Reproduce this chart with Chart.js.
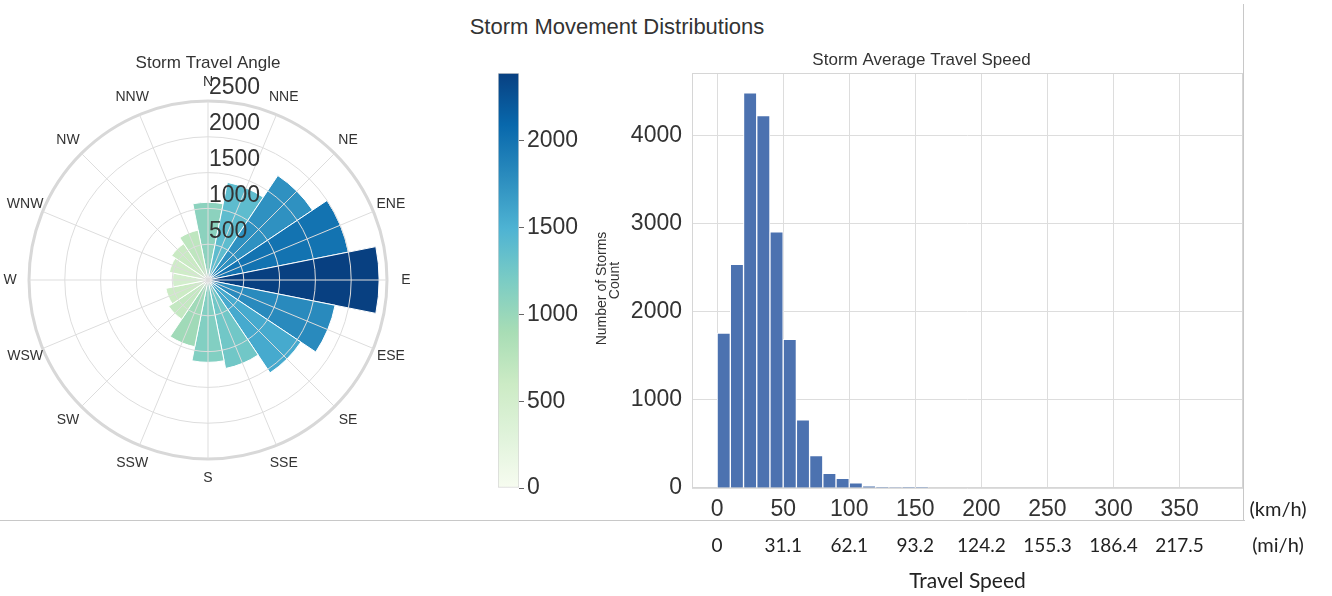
<!DOCTYPE html>
<html>
<head>
<meta charset="utf-8">
<title>Storm Movement Distributions</title>
<script src="https://cdn.jsdelivr.net/npm/chart.js@4.4.1/dist/chart.umd.min.js"></script>
<style>
  html, body { margin: 0; padding: 0; background: #fff; }
  body { width: 1332px; height: 596px; position: relative; overflow: hidden;
         font-family: 'Liberation Sans', Arial, sans-serif; }
  .panel { position: absolute; }
  #suptitle { position: absolute; left: 0; top: 14px; width: 1234px; text-align: center;
              font-size: 22px; line-height: 26px; color: #333; }
  #hline { position: absolute; left: 0; top: 520px; width: 1245px; border-top: 1px solid #c8c8c8; }
  #vline { position: absolute; left: 1243px; top: 4px; height: 516px; border-left: 1px solid #c8c8c8; }
</style>
</head>
<body>
<div id="suptitle">Storm Movement Distributions</div>
<div class="panel" style="left:0;top:40px;width:416px;height:480px"><canvas id="roseChart" width="416" height="480"></canvas></div>
<div class="panel" style="left:470px;top:40px;width:150px;height:480px"><canvas id="colorbar" width="150" height="480"></canvas></div>
<div class="panel" style="left:590px;top:40px;width:742px;height:556px"><canvas id="speedChart" width="742" height="556"></canvas></div>
<div id="hline"></div>
<div id="vline"></div>
<script>
// storm travel direction, clockwise from north
const directions = ['N', 'NNE', 'NE', 'ENE', 'E', 'ESE', 'SE', 'SSE', 'S', 'SSW', 'SW', 'WSW', 'W', 'WNW', 'NW', 'NNW'];
const directionCounts = [1085, 1390, 1755, 2000, 2390, 1810, 1560, 1260, 1150, 950, 660, 600, 495, 550, 610, 710];
const radialTicks = [500, 1000, 1500, 2000, 2500];
const colorbarTicks = [0, 500, 1000, 1500, 2000];

// average travel speed histogram, 10 km/h bins
const speedBinStarts = [0, 10, 20, 30, 40, 50, 60, 70, 80, 90, 100, 110, 120, 130, 140, 150];
const speedCounts = [1760, 2540, 4490, 4230, 2910, 1690, 775, 368, 167, 110, 60, 23, 10, 5, 3, 2];
const binWidth = 10;
const kmTicks = [0, 50, 100, 150, 200, 250, 300, 350];
const mphLabels = ['0', '31.1', '62.1', '93.2', '124.2', '155.3', '186.4', '217.5'];
const countTicks = [0, 1000, 2000, 3000, 4000];

const countMax = Math.max(...directionCounts);
const SANS = "'Liberation Sans', Arial, sans-serif";
const LATO = "Lato, 'Open Sans', sans-serif";
const TEXT = '#333';
const GRID = '#dddddd';

// GnBu colour ramp
const gnbu = ['#f7fcf0', '#e0f3db', '#ccebc5', '#a8ddb5', '#7bccc4', '#4eb3d3', '#2b8cbe', '#0868ac', '#084081'];

function hexToRgb(hex) {
  const n = parseInt(hex.slice(1), 16);
  return [(n >> 16) & 255, (n >> 8) & 255, n & 255];
}

function gnbuColor(t) {
  t = Math.min(1, Math.max(0, t));
  const pos = t * (gnbu.length - 1);
  const i = Math.min(Math.floor(pos), gnbu.length - 2);
  const f = pos - i;
  const a = hexToRgb(gnbu[i]);
  const b = hexToRgb(gnbu[i + 1]);
  const c = a.map((v, k) => Math.round(v + (b[k] - v) * f));
  return `rgb(${c[0]}, ${c[1]}, ${c[2]})`;
}

const plainNumber = v => String(v);

// compass labels and radial tick labels for the rose
const roseLabels = {
  id: 'roseLabels',
  afterDraw(chart) {
    const scale = chart.scales.compass;
    const ctx = chart.ctx;
    ctx.save();
    ctx.fillStyle = TEXT;
    ctx.textAlign = 'center';
    ctx.textBaseline = 'middle';
    ctx.font = '14px ' + SANS;
    directions.forEach((d, i) => {
      const p = scale.getPointPosition(i, scale.drawingArea + 19);
      ctx.fillText(d, p.x, p.y);
    });
    ctx.textAlign = 'left';
    ctx.font = '23px ' + SANS;
    radialTicks.forEach(v => {
      const dist = scale.getDistanceFromCenterForValue(v);
      ctx.fillText(String(v), scale.xCenter + 1, scale.yCenter - dist - 13);
    });
    ctx.restore();
  }
};

new Chart(document.getElementById('roseChart'), {
  type: 'polarArea',
  data: {
    labels: directions,
    datasets: [{
      data: directionCounts,
      backgroundColor: directionCounts.map(v => gnbuColor(v / countMax)),
      borderColor: '#ffffff',
      borderWidth: 1,
      rAxisID: 'r'
    }]
  },
  options: {
    responsive: false,
    animation: false,
    layout: { padding: { bottom: 61 } },
    plugins: {
      legend: { display: false },
      tooltip: { enabled: false },
      title: {
        display: true,
        text: 'Storm Travel Angle',
        color: TEXT,
        font: { family: SANS, size: 17, weight: 'normal' },
        padding: { top: 12.8, bottom: 27.8 }
      }
    },
    scales: {
      // arcs are centred on each compass direction
      r: {
        startAngle: -11.25,
        min: 0,
        max: 2500,
        grid: { display: false },
        angleLines: { display: false },
        ticks: { display: false },
        pointLabels: { display: false }
      },
      // grid drawn on top of the arcs, spokes through the arc centres
      compass: {
        type: 'radialLinear',
        axis: 'r',
        startAngle: 0,
        min: 0,
        max: 2500,
        ticks: { display: false, stepSize: 500 },
        grid: {
          z: 1,
          circular: true,
          color: ctx => ctx.tick && ctx.tick.value === 2500 ? '#d8d8d8' : GRID,
          lineWidth: ctx => ctx.tick && ctx.tick.value === 2500 ? 3 : 1
        },
        angleLines: { display: true, color: GRID, lineWidth: 1 },
        pointLabels: { display: false }
      }
    }
  },
  plugins: [roseLabels]
});

function colorbarGradient(chart) {
  if (!chart.chartArea) return gnbu[4];
  const y = chart.scales.y;
  const g = chart.ctx.createLinearGradient(0, y.getPixelForValue(0), 0, y.getPixelForValue(countMax));
  gnbu.forEach((c, i) => g.addColorStop(i / (gnbu.length - 1), c));
  return g;
}

const colorbarLabel = {
  id: 'colorbarLabel',
  afterDraw(chart) {
    const area = chart.chartArea;
    const ctx = chart.ctx;
    ctx.save();
    ctx.translate(132, (area.top + area.bottom) / 2 + 8);
    ctx.rotate(-Math.PI / 2);
    ctx.fillStyle = TEXT;
    ctx.font = '14px ' + SANS;
    ctx.textAlign = 'center';
    ctx.textBaseline = 'middle';
    ctx.fillText('Number of Storms', 0, 0);
    ctx.restore();
  }
};

new Chart(document.getElementById('colorbar'), {
  type: 'bar',
  data: {
    labels: [''],
    datasets: [{
      data: [countMax],
      backgroundColor: ctx => colorbarGradient(ctx.chart),
      borderColor: '#d4d4d4',
      borderWidth: 1,
      borderSkipped: false,
      barPercentage: 1,
      categoryPercentage: 1
    }]
  },
  options: {
    responsive: false,
    animation: false,
    layout: { padding: { left: 28, top: 33, bottom: 32 } },
    plugins: { legend: { display: false }, tooltip: { enabled: false } },
    scales: {
      x: { display: false },
      y: {
        position: 'right',
        min: 0,
        max: countMax,
        afterBuildTicks: s => { s.ticks = colorbarTicks.map(v => ({ value: v })); },
        afterFit: s => { s.width = 101; },
        grid: { display: true, drawOnChartArea: false, drawTicks: true, tickLength: 5, color: '#666' },
        border: { display: false },
        ticks: { color: TEXT, font: { family: SANS, size: 23 }, padding: 3, callback: plainNumber }
      }
    }
  },
  plugins: [colorbarLabel]
});

// tick label paddings of the two bottom axes
const KM_PAD = 7.5;
const MPH_PAD = 3.6;

// frame around the plot area plus the unit captions beside the tick rows
const speedFrame = {
  id: 'speedFrame',
  beforeDatasetsDraw(chart) {
    const a = chart.chartArea;
    const ctx = chart.ctx;
    ctx.save();
    ctx.strokeStyle = '#d6d6d6';
    ctx.lineWidth = 1;
    ctx.strokeRect(a.left + 0.5, a.top + 0.5, a.right - a.left - 1, a.bottom - a.top - 1);
    ctx.restore();
  },
  afterDraw(chart) {
    const ctx = chart.ctx;
    const x = chart.scales.x;
    const x2 = chart.scales.x2;
    ctx.save();
    ctx.fillStyle = '#222';
    ctx.font = '20px ' + LATO;
    ctx.textAlign = 'center';
    ctx.textBaseline = 'middle';
    ctx.fillText('(km/h)', 688, x.top + KM_PAD + 13.8);
    ctx.fillText('(mi/h)', 688, x2.top + MPH_PAD + 11.4);
    ctx.restore();
  }
};

new Chart(document.getElementById('speedChart'), {
  type: 'bar',
  data: {
    datasets: [{
      data: speedBinStarts.map((s, i) => ({ x: s + binWidth / 2, y: speedCounts[i] })),
      backgroundColor: '#4c72b0',
      borderColor: '#ffffff',
      borderWidth: 1,
      barPercentage: 1,
      categoryPercentage: 1
    }]
  },
  options: {
    responsive: false,
    animation: false,
    layout: { padding: { left: 10, right: 89, bottom: 0 } },
    plugins: {
      legend: { display: false },
      tooltip: { enabled: false },
      title: {
        display: true,
        text: 'Storm Average Travel Speed',
        color: TEXT,
        font: { family: SANS, size: 17, weight: 'normal' },
        padding: { top: 9.8, bottom: 2.8 }
      }
    },
    scales: {
      x: {
        type: 'linear',
        offset: false,
        min: -19,
        max: 398,
        weight: 0,
        afterBuildTicks: s => { s.ticks = kmTicks.map(v => ({ value: v })); },
        grid: { color: GRID, drawTicks: false, offset: false },
        border: { display: false },
        ticks: { color: TEXT, font: { family: SANS, size: 23 }, padding: KM_PAD, maxRotation: 0, autoSkip: false, callback: plainNumber }
      },
      x2: {
        type: 'linear',
        position: 'bottom',
        offset: false,
        min: -19,
        max: 398,
        weight: 1,
        afterBuildTicks: s => { s.ticks = kmTicks.map(v => ({ value: v })); },
        grid: { display: false, drawTicks: false },
        border: { display: false },
        ticks: {
          color: '#222',
          font: { family: LATO, size: 19 },
          padding: MPH_PAD,
          maxRotation: 0,
          autoSkip: false,
          callback: (v, i) => mphLabels[i]
        },
        title: {
          display: true,
          text: 'Travel Speed',
          color: '#222',
          font: { family: LATO, size: 21 },
          padding: { top: 7.8, bottom: 2.4 }
        }
      },
      y: {
        min: 0,
        max: 4715,
        afterBuildTicks: s => { s.ticks = countTicks.map(v => ({ value: v })); },
        afterFit: s => { s.width = 92; },
        grid: { color: GRID, drawTicks: false },
        border: { display: false },
        ticks: { color: TEXT, font: { family: SANS, size: 23 }, padding: 10, callback: plainNumber },
        title: {
          display: true,
          text: 'Count',
          color: TEXT,
          font: { family: SANS, size: 14 },
          padding: { top: 7, bottom: 0 }
        }
      }
    }
  },
  plugins: [speedFrame]
});
</script>
</body>
</html>
